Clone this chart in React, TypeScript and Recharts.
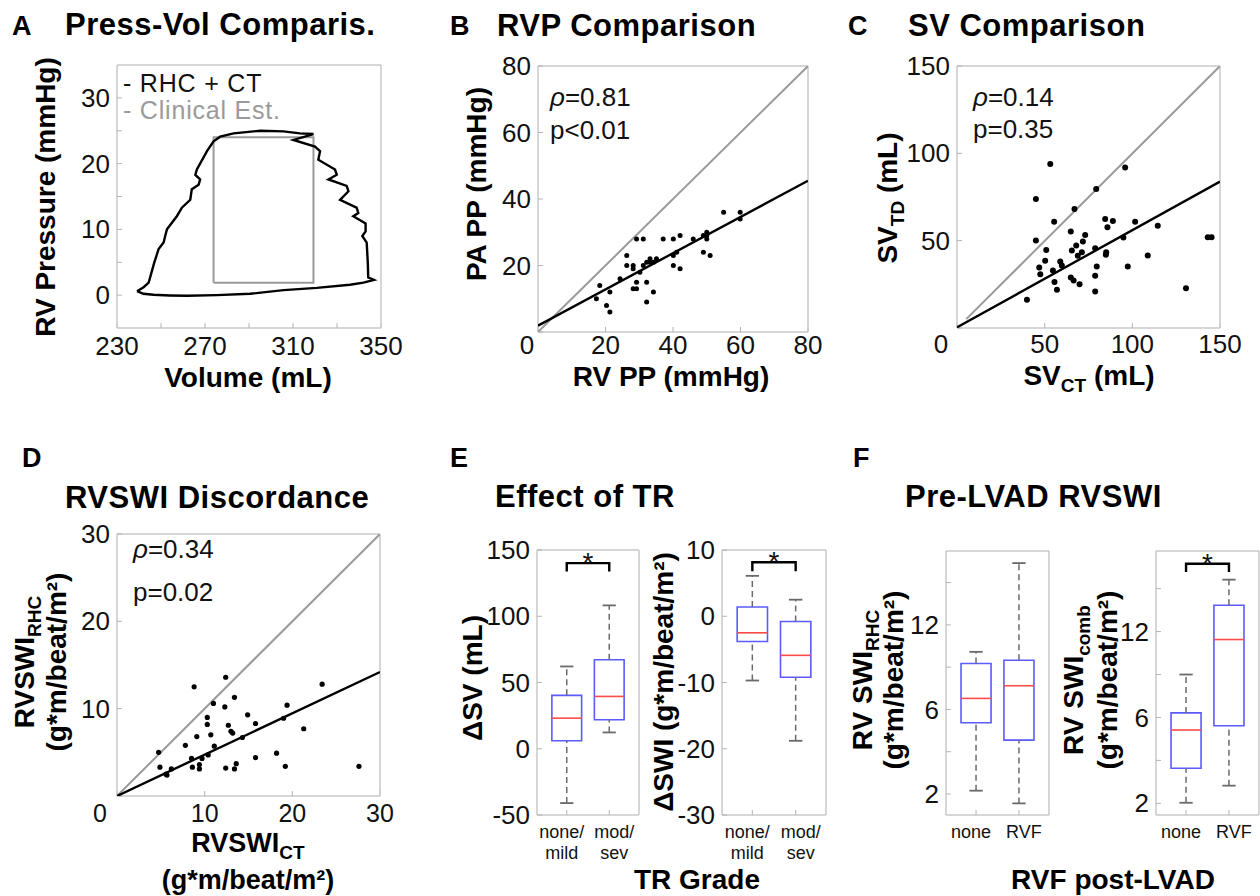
import React from "react";
import { ComposedChart, Scatter, XAxis, YAxis, ReferenceArea, ReferenceLine } from "recharts";

const FONT = '"Liberation Sans", Arial, Helvetica, sans-serif';
const FRAME = "#c8c8c8";
const TICKC = "#b4b4b4";
const IDENT = "#9a9a9a";
const BOXC = "#5b5bff";
const MEDC = "#ff4a4a";
const WHISK = "#6a6a6a";

// ---- A: pressure-volume loop ----
const pvLoop = [
  [239.1, 0.6], [242, 0.2], [246.6, 0.05], [254, -0.05], [261.8, -0.1], [275.4, 0], [290.5, 0.2],
  [305.7, 0.76], [320.8, 1.1], [335.9, 1.57], [342, 1.9], [346.8, 2.3], [344.2, 2.7], [344.0, 4.9],
  [343.5, 8.0], [341.5, 9.0], [343.0, 9.7], [343.0, 10.9], [337.4, 12.0], [339.7, 12.5], [338.9, 13.3],
  [331.4, 14.5], [335.2, 15.8], [334.4, 16.6], [326.1, 17.6], [329.9, 18.3], [329.1, 19.1], [321.5, 20.6],
  [322.3, 21.9], [320.0, 22.6], [310.2, 23.6], [319.3, 24.5], [313.2, 24.6], [305.7, 24.9], [295.1, 25.0],
  [283.0, 24.6], [276.9, 24.1], [273.9, 23.4], [270.9, 21.9], [266.3, 19.1], [265.6, 18.3], [267.8, 17.6],
  [267.1, 16.8], [264.0, 16.1], [263.3, 14.5], [259.5, 13.3], [257.2, 12.0], [252.7, 10.0], [251.9, 9.0],
  [251.2, 8.0], [248.9, 7.0], [246.9, 4.9], [244.4, 1.9], [242.1, 1.2], [239.1, 0.6],
];
const clinicalBox = [[273.9, 1.9], [319.3, 1.9], [319.3, 24.0], [273.9, 24.0], [273.9, 1.9]];
const pvXTicks = [230, 250, 270, 290, 310, 330, 350];
const pvXLabels = [230, 270, 310, 350];
const pvYTicks = [0, 5, 10, 15, 20, 25, 30];
const pvYLabels = [0, 10, 20, 30];

// ---- B: RV pulse pressure vs PA pulse pressure ----
const rvpPoints = [
  [17.3, 10], [18.3, 14], [20.3, 8], [21.3, 12], [21.3, 6], [24.3, 16], [26.3, 23], [26.3, 20],
  [28.2, 20], [28.2, 19], [28.2, 13], [29.2, 13], [29.2, 15], [29.2, 28], [31.2, 28], [30.2, 18],
  [31.2, 20], [32.2, 15], [32.2, 9], [32.2, 21], [33.2, 22], [34.2, 12], [34.2, 21], [35.1, 22],
  [33.2, 21], [37.1, 28], [40.1, 28], [40.1, 23], [40.1, 20], [41.1, 24], [42.1, 19], [42.1, 29],
  [46, 28], [49, 24], [50, 29], [50, 30], [50, 28], [51, 23], [55, 36], [59.9, 36], [59.9, 34], [49, 29],
];
const rvpIdentity = [[0, 0], [80, 80]];
const rvpFit = [[0, 1.9], [80, 45.5]];
const rvpTicks = [0, 20, 40, 60, 80];
const rvpYLabels = [20, 40, 60, 80];

// ---- C: stroke volume ----
const svPoints = [
  [39.9, 16.2], [45, 73.9], [45, 50.1], [46.9, 34.6], [47.5, 30.8], [50.9, 44.7], [50.3, 38.5],
  [53.2, 93.9], [55.4, 60.9], [54.7, 32.9], [55.6, 26.3], [57, 21.9], [58.9, 38.1], [59.8, 35.8],
  [64.9, 55.2], [65.5, 44.4], [64.9, 28.9], [66.5, 27.2], [67, 68.2], [68, 47.2], [68.9, 41.3],
  [69.9, 25.1], [71.2, 43.4], [71.8, 49.5], [73.1, 53.3], [78.8, 45.7], [78.8, 29.9], [78.8, 20.9],
  [79.4, 79.6], [79.7, 35.2], [84.5, 62.4], [85.1, 43.4], [84.9, 41.9], [85.8, 57.7], [88.9, 61.3],
  [94.9, 51.8], [95.9, 91.9], [97.4, 35.2], [101.6, 60.9], [108.8, 41.5], [114.5, 58.6], [130.6, 22.8],
  [143, 52], [145.2, 52],
];
const svIdentity = [[5.3, 5.1], [150, 150]];
const svFit = [[0, 0.4], [150, 83.8]];
const svTicks = [0, 50, 100, 150];
const svYLabels = [50, 100, 150];

// ---- D: RVSWI ----
const swiPoints = [
  [4.75, 5.0], [4.9, 3.3], [5.6, 2.5], [5.7, 2.4], [6.2, 3.1], [7.8, 5.8], [8.5, 4.3], [8.6, 3.3],
  [8.8, 12.5], [9.1, 6.8], [9.4, 3.6], [9.4, 3.1], [9.7, 4.3], [10.3, 9.0], [10.3, 8.2], [10.4, 4.7],
  [10.7, 7.0], [11.0, 10.6], [11.1, 5.7], [12.3, 10.2], [12.4, 13.6], [12.4, 3.2], [12.7, 8.1],
  [13.0, 7.4], [13.2, 7.2], [13.4, 11.3], [13.6, 3.7], [13.4, 3.1], [14.3, 6.7], [14.9, 9.3],
  [15.8, 8.3], [15.8, 4.4], [18.2, 4.9], [19.0, 8.9], [19.2, 3.4], [19.4, 10.4], [21.3, 7.7],
  [23.4, 12.8], [27.6, 3.4],
];
const swiIdentity = [[0, 0], [30, 30]];
const swiFit = [[0, 0], [30, 14.2]];
const swiTicks = [0, 10, 20, 30];
const swiYLabels = [10, 20, 30];

// ---- E: effect of TR (box plots) ----
const trGroupPos = [1, 2];
const trGroupLabels = [["none/", "mild"], ["mod/", "sev"]];
const dsvBoxes = [
  { pos: 1, lo: -41, q1: 6.0, med: 23.1, q3: 40.3, hi: 62.1 },
  { pos: 2, lo: 12.3, q1: 21.9, med: 39.5, q3: 67.2, hi: 108.2 },
];
const dsvBracket = [[1, 133.8], [1, 140.1], [2, 140.1], [2, 133.8]];
const dsvStar = [[1.5, 140.1]];
const dsvTicks = [-50, 0, 50, 100, 150];
const dswiBoxes = [
  { pos: 1, lo: -9.7, q1: -3.8, med: -2.5, q3: 1.4, hi: 6.1 },
  { pos: 2, lo: -18.8, q1: -9.2, med: -5.9, q3: -0.8, hi: 2.5 },
];
const dswiBracket = [[1, 6.8], [1, 8.15], [2, 8.15], [2, 6.8]];
const dswiStar = [[1.5, 8.15]];
const dswiTicks = [-30, -20, -10, 0, 10];

// ---- F: pre-LVAD RVSWI (square-root axis) ----
const rvfGroupPos = [1, 2];
const rvfGroupLabels = [["none"], ["RVF"]];
const rhcBoxes = [
  { pos: 1, lo: 2.37, q1: 5.49, med: 6.92, q3: 9.26, hi: 10.12 },
  { pos: 2, lo: 1.93, q1: 4.57, med: 7.73, q3: 9.5, hi: 17.9 },
];
const combBoxes = [
  { pos: 1, lo: 2.27, q1: 3.64, med: 5.54, q3: 6.52, hi: 9.0 },
  { pos: 2, lo: 2.91, q1: 5.78, med: 11.61, q3: 14.49, hi: 16.85 },
];
const combBracket = [[1, 17.59], [1, 18.41], [2, 18.41], [2, 17.59]];
const combStar = [[1.5, 18.41]];
const rvfTickVals = [2.25, 4, 6.25, 9, 12.25, 16];
const rvfTickLabels = ["2", "", "6", "", "12", ""];

type Rect = { x: number; y: number; w: number; h: number };
const YW = 80;
const XH = 70;
const PT = 14;
const PR = 34;
const BOX_HALF = 0.35;
const CAP_HALF = 0.155;
const TICK_FS = 26;

const toXY = (pts: number[][]) => pts.map(([x, y]) => ({ x, y }));
const txt = { fontFamily: FONT, fill: "#111" };

function xTickFn(labelOf: (v: number) => string[], off: number, size: number, shiftOf: (v: number) => number = () => 0) {
  return (p: any) => {
    const v = p.payload.value;
    const lines = labelOf(v);
    if (!lines.length) return <g />;
    const x = p.x + shiftOf(v);
    return (
      <text x={x} y={p.y + off} textAnchor="middle" fontSize={size} {...txt}>
        {lines.map((l, i) => (
          <tspan key={i} x={x} dy={i === 0 ? 0 : size * 1.17}>{l}</tspan>
        ))}
      </text>
    );
  };
}

function yTickFn(labelOf: (v: number) => string, size = TICK_FS) {
  return (p: any) => {
    const s = labelOf(p.payload.value);
    if (!s) return <g />;
    return (
      <text x={p.x - 7} y={p.y} dy="0.35em" textAnchor="end" fontSize={size} {...txt}>{s}</text>
    );
  };
}

function frameAxes(o: {
  xDomain: [number, number];
  yDomain: [number, number];
  xTicks: number[];
  yTicks: number[];
  xTick: any;
  yTick: any;
  yScale?: "linear" | "sqrt";
}) {
  const common = {
    axisLine: { stroke: FRAME, strokeWidth: 1.5 },
    tickLine: { stroke: TICKC, strokeWidth: 1 },
    tickSize: -5,
    tickMargin: 5,
    allowDataOverflow: true,
    interval: 0 as const,
  };
  const ys = o.yScale ?? "linear";
  return [
    <XAxis key="xb" type="number" dataKey="x" domain={o.xDomain} ticks={o.xTicks} tick={o.xTick} height={XH} {...common} />,
    <XAxis key="xt" xAxisId="t" type="number" orientation="top" domain={o.xDomain} ticks={o.xTicks} tick={false} height={1} {...common} />,
    <YAxis key="yl" type="number" dataKey="y" domain={o.yDomain} ticks={o.yTicks} tick={o.yTick} width={YW} scale={ys} {...common} />,
    <YAxis key="yr" yAxisId="r" type="number" orientation="right" domain={o.yDomain} ticks={o.yTicks} tick={false} width={1} scale={ys} {...common} />,
  ];
}

const noShape = () => <g />;

function lineSeries(key: string, pts: number[][], stroke: string, width: number) {
  return (
    <Scatter key={key} data={toXY(pts)} fill={stroke} line={{ stroke, strokeWidth: width }} lineType="joint" shape={noShape} isAnimationActive={false} />
  );
}

function dotSeries(key: string, pts: number[][], r: number) {
  return (
    <Scatter key={key} data={toXY(pts)} fill="#000" isAnimationActive={false}
      shape={(p: any) => <circle cx={p.cx} cy={p.cy} r={r} fill="#000" />} />
  );
}

function starSeries(key: string, pts: number[][]) {
  return (
    <Scatter key={key} data={toXY(pts)} fill="#000" isAnimationActive={false}
      shape={(p: any) => (
        <text x={p.cx} y={p.cy + 9} textAnchor="middle" fontSize={28} {...txt}>*</text>
      )} />
  );
}

type Box = { pos: number; lo: number; q1: number; med: number; q3: number; hi: number };

function boxElements(prefix: string, boxes: Box[]) {
  return boxes.flatMap((b, i) => [
    <ReferenceLine key={`${prefix}wu${i}`} segment={[{ x: b.pos, y: b.q3 }, { x: b.pos, y: b.hi }]} stroke={WHISK} strokeWidth={1.5} strokeDasharray="6 4" />,
    <ReferenceLine key={`${prefix}wl${i}`} segment={[{ x: b.pos, y: b.lo }, { x: b.pos, y: b.q1 }]} stroke={WHISK} strokeWidth={1.5} strokeDasharray="6 4" />,
    <ReferenceLine key={`${prefix}cu${i}`} segment={[{ x: b.pos - CAP_HALF, y: b.hi }, { x: b.pos + CAP_HALF, y: b.hi }]} stroke={WHISK} strokeWidth={1.8} />,
    <ReferenceLine key={`${prefix}cl${i}`} segment={[{ x: b.pos - CAP_HALF, y: b.lo }, { x: b.pos + CAP_HALF, y: b.lo }]} stroke={WHISK} strokeWidth={1.8} />,
    <ReferenceArea key={`${prefix}bx${i}`} x1={b.pos - BOX_HALF} x2={b.pos + BOX_HALF} y1={b.q1} y2={b.q3} fill="none" fillOpacity={0} stroke={BOXC} strokeWidth={1.6} />,
    <ReferenceLine key={`${prefix}md${i}`} segment={[{ x: b.pos - BOX_HALF, y: b.med }, { x: b.pos + BOX_HALF, y: b.med }]} stroke={MEDC} strokeWidth={1.6} />,
  ]);
}

function Panel({ r, children }: { r: Rect; children: React.ReactNode }) {
  return (
    <div style={{ position: "absolute", left: r.x - YW, top: r.y - PT - 1 }}>
      <ComposedChart width={YW + r.w + 1 + PR} height={PT + 1 + r.h + XH} margin={{ top: PT, right: PR, left: 0, bottom: 0 }}>
        {children}
      </ComposedChart>
    </div>
  );
}

const rectA = { x: 117, y: 65, w: 264, h: 263 };
const rectB = { x: 538, y: 66, w: 270, h: 266 };
const rectC = { x: 957, y: 66, w: 263, h: 262 };
const rectD = { x: 117, y: 534, w: 263, h: 262 };
const rectE1 = { x: 537, y: 550, w: 102, h: 265 };
const rectE2 = { x: 722, y: 550, w: 104, h: 265 };
const rectF1 = { x: 946, y: 551, w: 103, h: 264 };
const rectF2 = { x: 1156, y: 551, w: 103, h: 264 };

const inList = (list: number[]) => (v: number) => (list.includes(v) ? String(v) : "");
const inListArr = (list: number[]) => (v: number) => (list.includes(v) ? [String(v)] : []);
const zeroShift = (dx: number) => (v: number) => (v === 0 ? dx : 0);
const groupLabel = (pos: number[], labels: string[][]) => (v: number) => {
  const i = pos.indexOf(v);
  return i >= 0 ? labels[i] : [];
};
const groupShift = (v: number) => (v === 1 ? -5 : 5);
const rvfLabel = (v: number) => {
  const i = rvfTickVals.indexOf(v);
  return i >= 0 ? rvfTickLabels[i] : "";
};

const bold = { fontFamily: FONT, fontWeight: 700, fill: "#000" } as const;
const norm = { fontFamily: FONT, fill: "#111" } as const;

function VText({ x, y, children, size = 28 }: { x: number; y: number; children: React.ReactNode; size?: number }) {
  return (
    <text x={x} y={y} transform={`rotate(-90 ${x} ${y})`} textAnchor="middle" fontSize={size} {...bold}>
      {children}
    </text>
  );
}

const SUB_DY = 7;
const Sub = ({ t }: { t: string }) => <tspan dy={SUB_DY} fontSize={19}>{t}</tspan>;
const After = ({ t }: { t: string }) => <tspan dy={-SUB_DY}>{t}</tspan>;

function Overlay() {
  const letters: [string, number, number][] = [["A", 12, 35], ["B", 450, 35], ["C", 848, 35], ["D", 22, 467], ["E", 450, 467], ["F", 853, 467]];
  const titles: [string, number, number][] = [
    ["Press-Vol Comparis.", 65, 35], ["RVP Comparison", 497, 36], ["SV Comparison", 908, 36],
    ["RVSWI Discordance", 65, 508], ["Effect of TR", 495, 507], ["Pre-LVAD RVSWI", 905, 507],
  ];
  return (
    <svg width={1260} height={896} style={{ position: "absolute", left: 0, top: 0, pointerEvents: "none" }}>
      {letters.map(([t, x, y]) => (
        <text key={t} x={x} y={y} fontSize={27} {...bold}>{t}</text>
      ))}
      {titles.map(([t, x, y]) => (
        <text key={t} x={x} y={y} fontSize={31} letterSpacing={0.5} {...bold}>{t}</text>
      ))}
      {/* A */}
      <text x={248} y={387} textAnchor="middle" fontSize={28} {...bold}>Volume (mL)</text>
      <VText x={55} y={197}>RV Pressure (mmHg)</VText>
      <text x={123} y={92} fontSize={25} letterSpacing={0.8} {...norm}>- RHC + CT</text>
      <text x={123} y={119} fontSize={25} letterSpacing={0.8} {...norm} fill="#9a9a9a">- Clinical Est.</text>
      {/* B */}
      <text x={671} y={386} textAnchor="middle" fontSize={28} {...bold}>RV PP (mmHg)</text>
      <VText x={486} y={184}>PA PP (mmHg)</VText>
      <text x={550} y={106} fontSize={26} {...norm}><tspan fontStyle="italic">ρ</tspan>=0.81</text>
      <text x={550} y={139} fontSize={26} {...norm}>p&lt;0.01</text>
      {/* C */}
      <text x={1089} y={385} textAnchor="middle" fontSize={28} {...bold}>SV<Sub t="CT" /><After t=" (mL)" /></text>
      <VText x={897} y={198}>SV<Sub t="TD" /><After t=" (mL)" /></VText>
      <text x={973} y={106} fontSize={26} {...norm}><tspan fontStyle="italic">ρ</tspan>=0.14</text>
      <text x={973} y={138} fontSize={26} {...norm}>p=0.35</text>
      {/* D */}
      <text x={248} y={852} textAnchor="middle" fontSize={27} {...bold}>RVSWI<Sub t="CT" /></text>
      <text x={248} y={889} textAnchor="middle" fontSize={27} {...bold}>(g*m/beat/m²)</text>
      <VText x={34} y={662}>RVSWI<Sub t="RHC" /></VText>
      <VText x={66} y={662}>(g*m/beat/m²)</VText>
      <text x={133} y={558} fontSize={26} {...norm}><tspan fontStyle="italic">ρ</tspan>=0.34</text>
      <text x={133} y={601} fontSize={26} {...norm}>p=0.02</text>
      {/* E */}
      <VText x={482} y={678}>ΔSV (mL)</VText>
      <VText x={673} y={682}>ΔSWI (g*m/beat/m²)</VText>
      <text x={697} y={889} textAnchor="middle" fontSize={28} {...bold}>TR Grade</text>
      {/* F */}
      <VText x={872} y={680}>RV SWI<Sub t="RHC" /></VText>
      <VText x={903} y={680}>(g*m/beat/m²)</VText>
      <VText x={1083} y={680}>RV SWI<Sub t="comb" /></VText>
      <VText x={1117} y={680}>(g*m/beat/m²)</VText>
      <text x={1113} y={889} textAnchor="middle" fontSize={28} {...bold}>RVF post-LVAD</text>
    </svg>
  );
}

export default function App() {
  return (
    <div style={{ position: "absolute", left: 0, top: 0, width: 1260, height: 896, overflow: "hidden", background: "#fff" }}>
      <Panel r={rectA}>
        {frameAxes({ xDomain: [230, 350], yDomain: [-5, 35], xTicks: pvXTicks, yTicks: pvYTicks, xTick: xTickFn(inListArr(pvXLabels), 27, TICK_FS), yTick: yTickFn(inList(pvYLabels)) })}
        {lineSeries("box", clinicalBox, IDENT, 2)}
        {lineSeries("loop", pvLoop, "#000", 2.4)}
      </Panel>
      <Panel r={rectB}>
        {frameAxes({ xDomain: [0, 80], yDomain: [0, 80], xTicks: rvpTicks, yTicks: rvpTicks, xTick: xTickFn(inListArr(rvpTicks), 22, TICK_FS, zeroShift(-11)), yTick: yTickFn(inList(rvpYLabels)) })}
        {lineSeries("id", rvpIdentity, IDENT, 2)}
        {lineSeries("fit", rvpFit, "#000", 2.4)}
        {dotSeries("pts", rvpPoints, 2.5)}
      </Panel>
      <Panel r={rectC}>
        {frameAxes({ xDomain: [0, 150], yDomain: [0, 150], xTicks: svTicks, yTicks: svTicks, xTick: xTickFn(inListArr(svTicks), 25, TICK_FS, zeroShift(-16)), yTick: yTickFn(inList(svYLabels)) })}
        {lineSeries("id", svIdentity, IDENT, 2)}
        {lineSeries("fit", svFit, "#000", 2.4)}
        {dotSeries("pts", svPoints, 3)}
      </Panel>
      <Panel r={rectD}>
        {frameAxes({ xDomain: [0, 30], yDomain: [0, 30], xTicks: swiTicks, yTicks: swiTicks, xTick: xTickFn(inListArr(swiTicks), 26, 25, zeroShift(-17)), yTick: yTickFn(inList(swiYLabels)) })}
        {lineSeries("id", swiIdentity, IDENT, 2)}
        {lineSeries("fit", swiFit, "#000", 2.4)}
        {dotSeries("pts", swiPoints, 2.6)}
      </Panel>
      <Panel r={rectE1}>
        {frameAxes({ xDomain: [0.3, 2.7], yDomain: [-50, 150], xTicks: trGroupPos, yTicks: dsvTicks, xTick: xTickFn(groupLabel(trGroupPos, trGroupLabels), 23, 18, groupShift), yTick: yTickFn(inList(dsvTicks)) })}
        {boxElements("e1", dsvBoxes)}
        {lineSeries("br", dsvBracket, "#000", 2.4)}
        {starSeries("st", dsvStar)}
      </Panel>
      <Panel r={rectE2}>
        {frameAxes({ xDomain: [0.3, 2.7], yDomain: [-30, 10], xTicks: trGroupPos, yTicks: dswiTicks, xTick: xTickFn(groupLabel(trGroupPos, trGroupLabels), 23, 18, groupShift), yTick: yTickFn(inList(dswiTicks)) })}
        {boxElements("e2", dswiBoxes)}
        {lineSeries("br", dswiBracket, "#000", 2.4)}
        {starSeries("st", dswiStar)}
      </Panel>
      <Panel r={rectF1}>
        {frameAxes({ xDomain: [0.3, 2.7], yDomain: [1.567, 19.13], xTicks: rvfGroupPos, yTicks: rvfTickVals, xTick: xTickFn(groupLabel(rvfGroupPos, rvfGroupLabels), 23, 18, groupShift), yTick: yTickFn(rvfLabel), yScale: "sqrt" })}
        {boxElements("f1", rhcBoxes)}
        <Scatter key="meds" data={rhcBoxes.map((b) => ({ x: b.pos, y: b.med }))} shape={noShape} isAnimationActive={false} />
      </Panel>
      <Panel r={rectF2}>
        {frameAxes({ xDomain: [0.3, 2.7], yDomain: [1.861, 19.7], xTicks: rvfGroupPos, yTicks: rvfTickVals, xTick: xTickFn(groupLabel(rvfGroupPos, rvfGroupLabels), 23, 18, groupShift), yTick: yTickFn(rvfLabel), yScale: "sqrt" })}
        {boxElements("f2", combBoxes)}
        {lineSeries("br", combBracket, "#000", 2.4)}
        {starSeries("st", combStar)}
      </Panel>
      <Overlay />
    </div>
  );
}
